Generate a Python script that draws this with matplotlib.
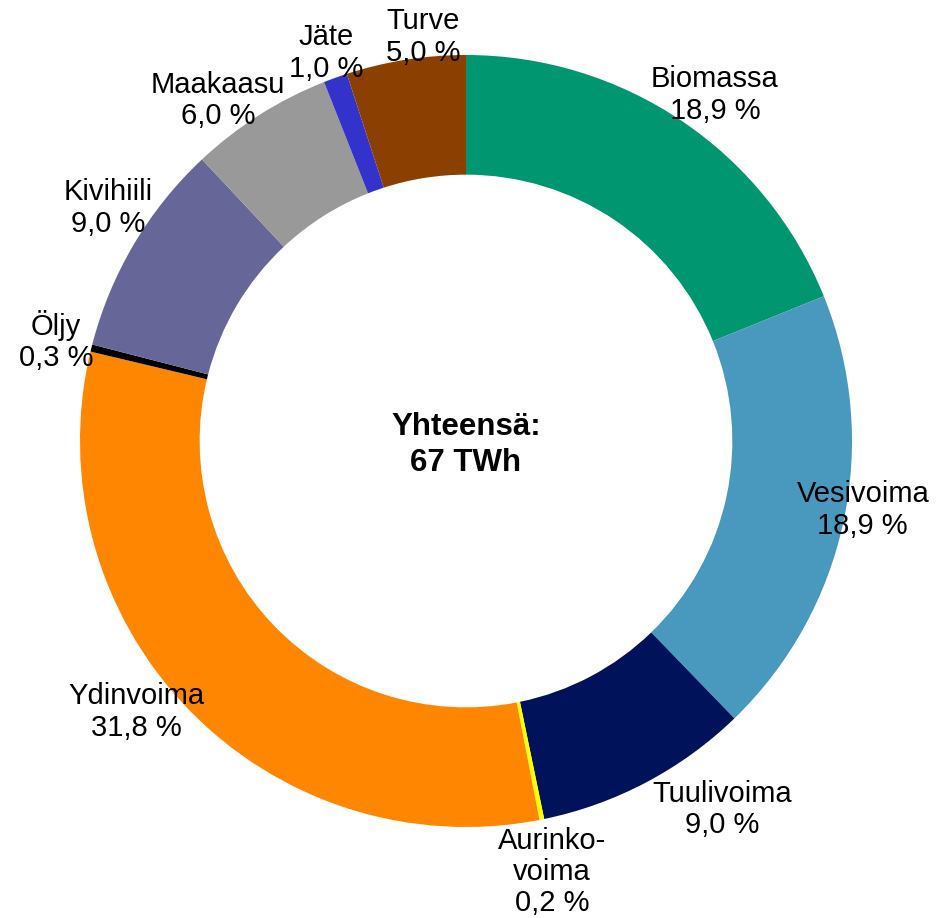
import matplotlib
matplotlib.use('Agg')
import matplotlib.pyplot as plt

# DATA ######
lahteet = ['Biomassa', 'Vesivoima', 'Tuulivoima', 'Aurinko-\nvoima', 'Ydinvoima',
           'Öljy', 'Kivihiili', 'Maakaasu', 'Jäte', 'Turve']
osuudet = [18.9, 18.9, 9.0, 0.2, 31.8, 0.3, 9.0, 6.0, 1.0, 5.0]
varit = ['#009670', '#4899bd', '#00125a', '#ffff00', '#ff8600',
         '#000000', '#666699', '#999999', '#3333cc', '#8b3f00']
yhteensa = '67 TWh'

# label centres (pie radius = 1)
label_pos = [(0.645, 0.896), (1.028, -0.179), (0.663, -0.954), (0.223, -1.117),
             (-0.855, -0.702), (-1.062, 0.259), (-0.927, 0.604), (-0.643, 0.883),
             (-0.363, 1.005), (-0.111, 1.047)]

plt.rcParams['font.family'] = ['Liberation Sans', 'DejaVu Sans']

fig = plt.figure(figsize=(9.43, 9.18), dpi=100)
ax = fig.add_axes([0, 0, 1, 1])
ax.pie(osuudet, colors=varit, startangle=90, counterclock=False,
       wedgeprops=dict(width=0.31, linewidth=0))

for nimi, arvo, (x, y) in zip(lahteet, osuudet, label_pos):
    teksti = '{}\n{:.1f} %'.format(nimi, arvo).replace('.', ',')
    ax.text(x, y, teksti, ha='center', va='center', fontsize=21, linespacing=1.15)

ax.text(0, -0.01, 'Yhteensä:\n' + yhteensa, ha='center', va='center',
        fontsize=22.5, fontweight='bold', linespacing=1.25)

ax.set_xlim(-466 / 386, (943 - 466) / 386)
ax.set_ylim(-(918 - 441) / 386, 441 / 386)
ax.set_aspect('auto')
ax.axis('off')

fig.savefig('out.png', dpi=100)
